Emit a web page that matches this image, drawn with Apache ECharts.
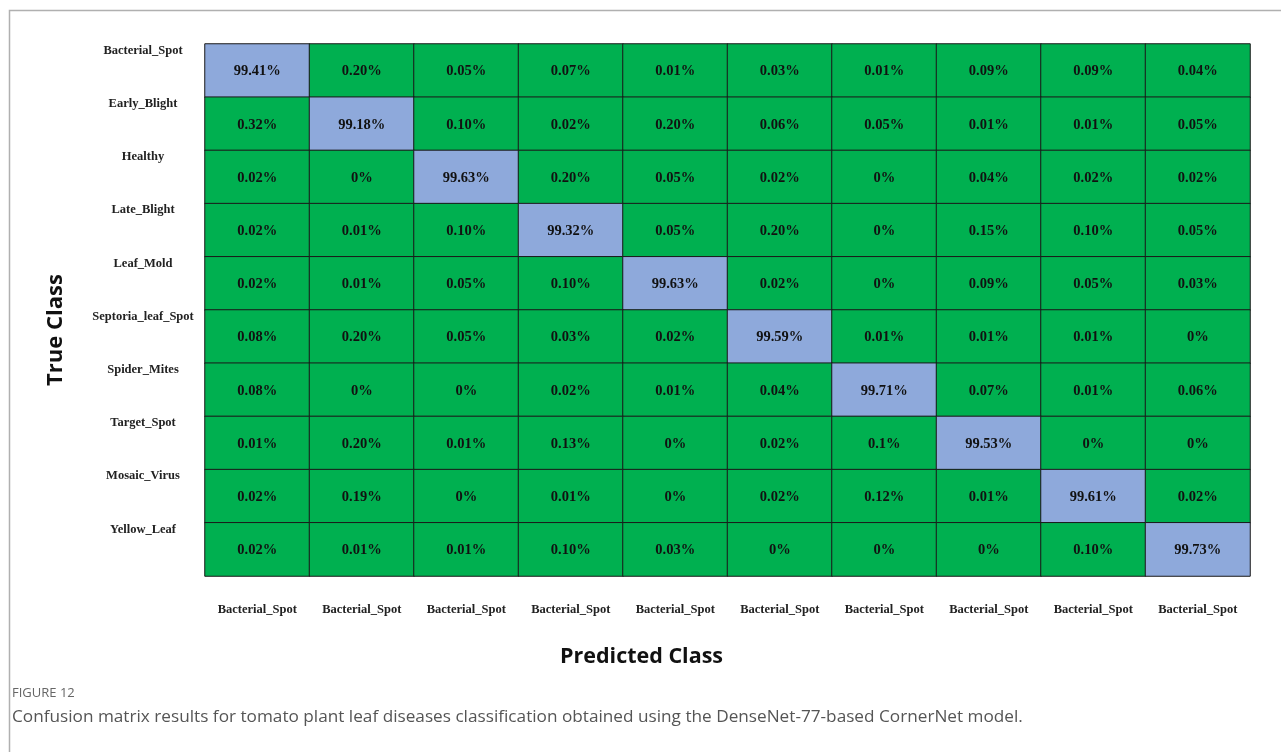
<!DOCTYPE html>
<html><head><meta charset="utf-8">
<script src="https://cdn.jsdelivr.net/npm/echarts@6/dist/echarts.min.js"></script>
<style>html,body{margin:0;padding:0;background:#fff}#c{width:1281px;height:752px}</style>
</head><body><div id="c"></div>
<script>
const trueClasses = ["Bacterial_Spot","Early_Blight","Healthy","Late_Blight","Leaf_Mold","Septoria_leaf_Spot","Spider_Mites","Target_Spot","Mosaic_Virus","Yellow_Leaf"];
const predictedLabels = ["Bacterial_Spot","Bacterial_Spot","Bacterial_Spot","Bacterial_Spot","Bacterial_Spot","Bacterial_Spot","Bacterial_Spot","Bacterial_Spot","Bacterial_Spot","Bacterial_Spot"];
const row0 = ["99.41","0.20","0.05","0.07","0.01","0.03","0.01","0.09","0.09","0.04"];
const row1 = ["0.32","99.18","0.10","0.02","0.20","0.06","0.05","0.01","0.01","0.05"];
const row2 = ["0.02","0","99.63","0.20","0.05","0.02","0","0.04","0.02","0.02"];
const row3 = ["0.02","0.01","0.10","99.32","0.05","0.20","0","0.15","0.10","0.05"];
const row4 = ["0.02","0.01","0.05","0.10","99.63","0.02","0","0.09","0.05","0.03"];
const row5 = ["0.08","0.20","0.05","0.03","0.02","99.59","0.01","0.01","0.01","0"];
const row6 = ["0.08","0","0","0.02","0.01","0.04","99.71","0.07","0.01","0.06"];
const row7 = ["0.01","0.20","0.01","0.13","0","0.02","0.1","99.53","0","0"];
const row8 = ["0.02","0.19","0","0.01","0","0.02","0.12","0.01","99.61","0.02"];
const row9 = ["0.02","0.01","0.01","0.10","0.03","0","0","0","0.10","99.73"];
const rows = [row0,row1,row2,row3,row4,row5,row6,row7,row8,row9];

const data = [];
rows.forEach((r, yi) => r.forEach((s, xi) => data.push({value:[xi, yi, parseFloat(s)], txt: s + '%'})));

const chart = echarts.init(document.getElementById('c'));
chart.setOption({
  animation:false,
  graphic:[
    {type:'polyline', shape:{points:[[9.5,760],[9.5,10.5],[1290,10.5]]}, style:{stroke:'#b0b0b0', lineWidth:1.5, fill:null}},
    {type:'text', x:56, y:330, rotation:Math.PI/2, style:{text:'True Class', align:'center', verticalAlign:'middle', font:'bold 22px "Open Sans"', fill:'#111'}}
  ],
  title:[
    {text:'Predicted Class', left:555, top:641, textStyle:{fontFamily:'Open Sans', fontWeight:'bold', fontSize:21.5, color:'#111'}},
    {text:'FIGURE 12', left:7, top:682, textStyle:{fontFamily:'Open Sans', fontWeight:'normal', fontSize:13, color:'#666'}},
    {text:'Confusion matrix results for tomato plant leaf diseases classification obtained using the DenseNet-77-based CornerNet model.', left:7, top:704, textStyle:{fontFamily:'Open Sans', fontWeight:'normal', fontSize:17.2, color:'#555'}}
  ],
  grid:{left:205, top:44, width:1045, height:532},
  xAxis:{type:'category', data:predictedLabels, axisLine:{show:false}, axisTick:{show:false}, splitLine:{show:false},
    axisLabel:{interval:0, margin:27, fontFamily:'Liberation Serif', fontWeight:'bold', fontSize:12.5, color:'#222'}},
  yAxis:{type:'category', data:trueClasses, inverse:true, axisLine:{show:false}, axisTick:{show:false},
    axisLabel:{interval:0, margin:62, align:'center', verticalAlign:'bottom', lineHeight:40, fontFamily:'Liberation Serif', fontWeight:'bold', fontSize:12.5, color:'#222'}},
  visualMap:{show:false, type:'piecewise', dimension:2, pieces:[{gte:50, color:'#8EA9DB'},{lt:50, color:'#00B050'}]},
  series:[{type:'heatmap', data:data,
    itemStyle:{borderColor:'#1a1a1a', borderWidth:1},
    label:{show:true, offset:[0,1], formatter:p=>p.data.txt, fontFamily:'Liberation Serif', fontWeight:'bold', fontSize:14.5, color:'#111'},
    emphasis:{disabled:true}}]
});
</script></body></html>
